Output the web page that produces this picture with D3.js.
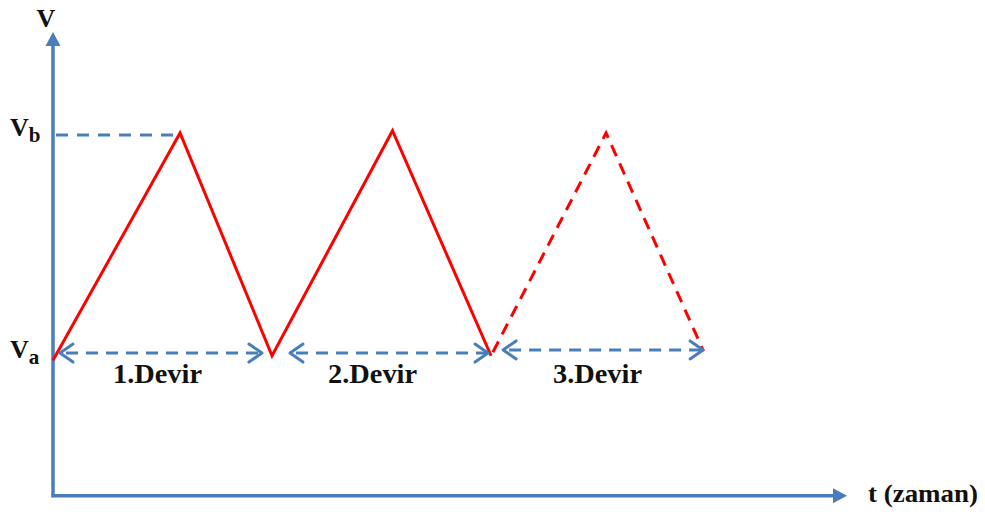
<!DOCTYPE html>
<html>
<head>
<meta charset="utf-8">
<script src="https://cdn.jsdelivr.net/npm/d3@7"></script>
<style>
  html, body { margin: 0; padding: 0; background: #fff; }
</style>
</head>
<body>
<svg id="chart" width="985" height="515"></svg>
<script>
// Triangle wave: time in cycles, voltage normalised so Va = 0, Vb = 1
const waveTimes  = [0, 0.58, 1.0, 1.55, 2.0, 2.525, 2.97];
const waveValues = [-0.01, 1.0, 0.01, 1.01, 0.01, 1.0, 0.03];
const solidUntil = 4;            // index of the last point of the solid part

// Cycle spans marked with double arrows
const cycleStart  = [0.032, 1.082, 2.055];
const cycleEnd    = [0.954, 1.986, 2.968];
const cycleLevel  = [0.022, 0.022, 0.036];
const cycleLabels = ["1.Devir", "2.Devir", "3.Devir"];
const labelTimes  = [0.477, 1.459, 2.486];

// Axis extents and level labels
const timeMax = 3.625;
const voltMin = -0.612, voltMax = 1.449;
const levelValues = [0, 1];
const levelNames  = [["V", "a"], ["V", "b"]];

const blue = "#4a7ebb", red = "#ff0000";
const font = "Liberation Serif";

const svg = d3.select("#chart");
const x = d3.scaleLinear().domain([0, timeMax]).range([53, 847]);
const y = d3.scaleLinear().domain([0, 1]).range([358, 133]);

const defs = svg.append("defs");
defs.append("marker")
  .attr("id", "axisHead").attr("markerUnits", "userSpaceOnUse")
  .attr("viewBox", "-1 -9 17 18").attr("markerWidth", 17).attr("markerHeight", 18)
  .attr("refX", 0).attr("refY", 0).attr("orient", "auto")
  .append("path").attr("d", "M0,-7.5 L14,0 L0,7.5 Z").attr("fill", blue);
defs.append("marker")
  .attr("id", "chev").attr("markerUnits", "userSpaceOnUse")
  .attr("viewBox", "-16 -12 20 24").attr("markerWidth", 20).attr("markerHeight", 24)
  .attr("refX", 0).attr("refY", 0).attr("orient", "auto-start-reverse")
  .append("path").attr("d", "M-13,-9 L0,0 L-13,9")
  .attr("fill", "none").attr("stroke", blue).attr("stroke-width", 3)
  .attr("stroke-linecap", "round").attr("stroke-linejoin", "round");

// Axes
svg.append("line")
  .attr("x1", x(0)).attr("y1", y(voltMin) + 1.5).attr("x2", x(0)).attr("y2", y(voltMax) + 14)
  .attr("stroke", blue).attr("stroke-width", 3.5).attr("marker-end", "url(#axisHead)");
svg.append("line")
  .attr("x1", x(0) - 1.5).attr("y1", y(voltMin)).attr("x2", x(timeMax) - 14).attr("y2", y(voltMin))
  .attr("stroke", blue).attr("stroke-width", 3.5).attr("marker-end", "url(#axisHead)");

const label = sel => sel.attr("font-family", font).attr("font-weight", "bold").attr("fill", "#111");

svg.append("text").call(label).attr("x", 46).attr("y", 27).attr("text-anchor", "middle")
  .attr("font-size", 26).text("V");
svg.append("text").call(label).attr("x", 868).attr("y", 502).attr("font-size", 26)
  .attr("textLength", 110).attr("lengthAdjust", "spacingAndGlyphs").text("t (zaman)");

// Vb guide line
svg.append("line")
  .attr("x1", x(0) + 3).attr("x2", x(waveTimes[1])).attr("y1", y(1) + 2).attr("y2", y(1) + 2)
  .attr("stroke", blue).attr("stroke-width", 3).attr("stroke-dasharray", "12,9");

// Level labels Va / Vb
const lvl = svg.selectAll("text.level").data(levelValues).join("text")
  .attr("class", "level").call(label).attr("font-size", 26)
  .attr("x", 10).attr("y", d => y(d) + (d === 0 ? 0 : 3));
lvl.append("tspan").text((d, i) => levelNames[i][0]);
lvl.append("tspan").attr("font-size", 21).attr("dy", 6).text((d, i) => levelNames[i][1]);

// Wave
const pts = waveTimes.map((t, i) => [x(t), y(waveValues[i])]);
const line = d3.line();
svg.append("path").attr("d", line(pts.slice(0, solidUntil + 1)))
  .attr("fill", "none").attr("stroke", red).attr("stroke-width", 3)
  .attr("stroke-linejoin", "miter");
svg.append("path").attr("d", line(pts.slice(solidUntil)))
  .attr("fill", "none").attr("stroke", red).attr("stroke-width", 3)
  .attr("stroke-dasharray", "12,8").attr("stroke-dashoffset", -4);

// Cycle arrows
svg.selectAll("line.cycle").data(cycleStart).join("line")
  .attr("class", "cycle")
  .attr("x1", d => x(d)).attr("x2", (d, i) => x(cycleEnd[i]))
  .attr("y1", (d, i) => y(cycleLevel[i])).attr("y2", (d, i) => y(cycleLevel[i]))
  .attr("stroke", blue).attr("stroke-width", 3).attr("stroke-dasharray", "12,8")
  .attr("stroke-dashoffset", -6)
  .attr("marker-start", "url(#chev)").attr("marker-end", "url(#chev)");

svg.selectAll("text.cycle").data(cycleLabels).join("text")
  .attr("class", "cycle").call(label).attr("font-size", 27).attr("text-anchor", "middle")
  .attr("x", (d, i) => x(labelTimes[i])).attr("y", 383)
  .attr("textLength", 89).attr("lengthAdjust", "spacingAndGlyphs")
  .text(d => d);
</script>
</body>
</html>
